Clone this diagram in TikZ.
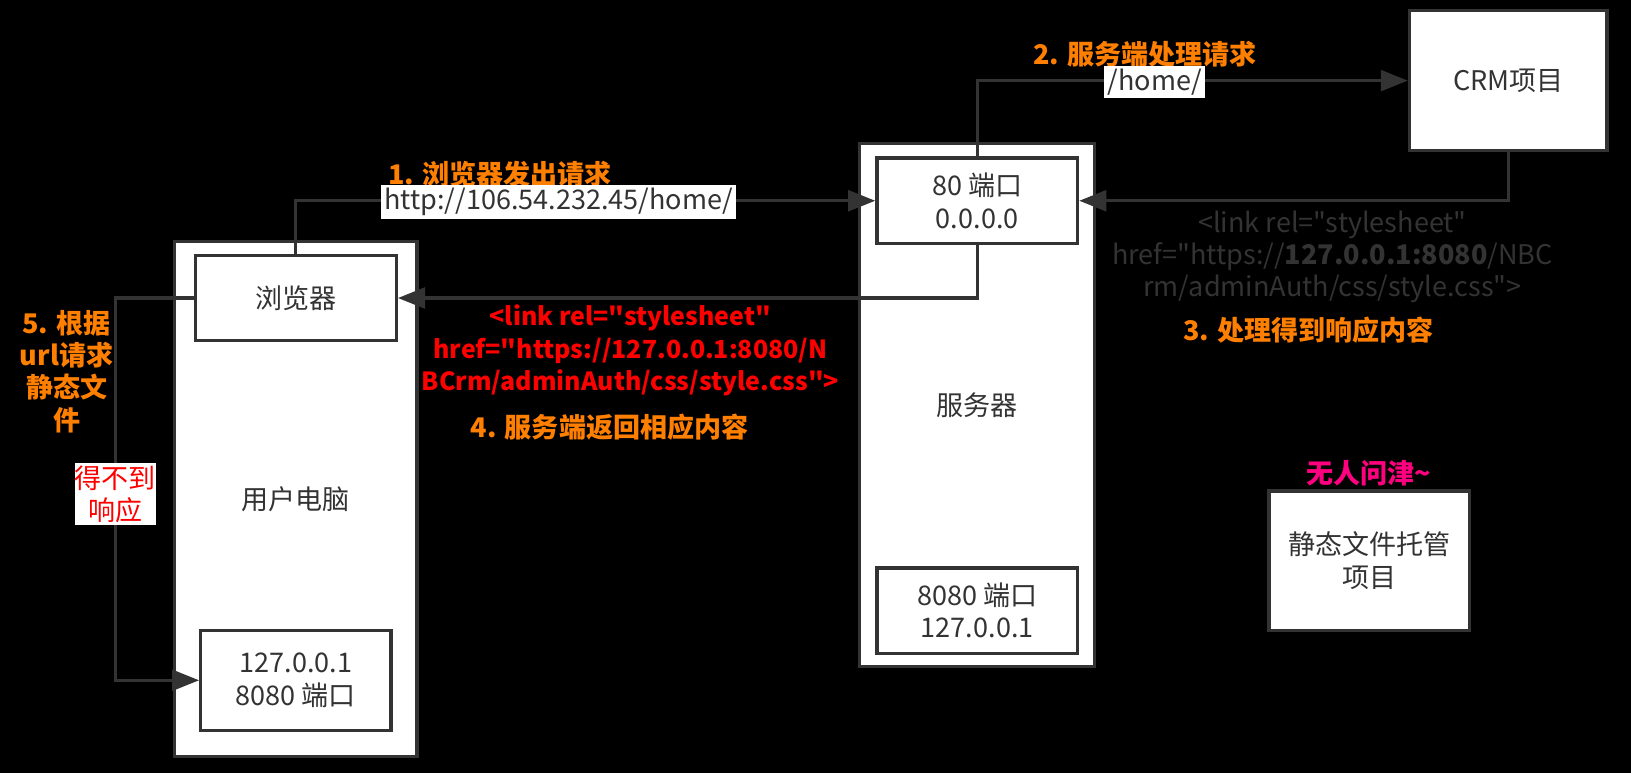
\documentclass[tikz,border=0pt]{standalone}
\usepackage{fontspec}
\newfontfamily\uifont{Noto Sans CJK SC}
\usetikzlibrary{positioning, arrows.meta}
\definecolor{linegray}{HTML}{333333}
\definecolor{steporange}{HTML}{FF8000}
\definecolor{quietpink}{HTML}{FF0080}

\begin{document}
\begin{tikzpicture}[x=0.5pt, y=-0.5pt, >={Triangle[length=13pt, width=10pt]},
    every node/.style={font=\uifont\fontsize{13}{15.5}\selectfont, text=linegray},
    box/.style={draw=linegray, line width=1.6pt, fill=white, rectangle, align=center, inner sep=0pt},
    conn/.style={draw=linegray, line width=1.5pt},
    steptext/.style={text=steporange, font=\uifont\fontsize{13}{15.5}\selectfont\bfseries, align=center},
    urllabel/.style={fill=white, inner sep=1.5pt}]
    \fill[black] (0,0) rectangle (1568,743);
    \useasboundingbox (0,0) rectangle (1568,743);

    % User computer
    \node[box, minimum width=116.5pt, minimum height=247.5pt] (pc) at (284.5,479.5) {用户电脑};
    \node[box, minimum width=96.5pt, minimum height=41pt] (browser) at (284.5,286.5) {浏览器};
    \node[box, minimum width=91.5pt, minimum height=48pt] (local) at (284.5,654) {127.0.0.1\\8080 端口};

    % Server
    \node[box, minimum width=113pt, minimum height=251.5pt] (server) at (939,389.5) {服务器};
    \node[box, minimum width=96.5pt, minimum height=41pt] (port) at (939.5,193) {80 端口\\0.0.0.0};
    \node[box, minimum width=96.5pt, minimum height=41pt] (srvlocal) at (939.5,587) {8080 端口\\127.0.0.1};

    % Projects
    \node[box, minimum width=95pt, minimum height=67.5pt] (crm) at (1450,77.5) {CRM项目};
    \node[box, minimum width=96.5pt, minimum height=67pt] (static) at (1316.5,539) {静态文件托管\\项目};

    % Request and response
    \coordinate (detour) at (111,286.5);
    \draw[conn, ->] (browser.north) |- (port.west);
    \draw[conn, ->] (port.north) |- (crm.west);
    \draw[conn, ->] (crm.south) |- (port.east);
    \draw[conn, ->] (port.south) |- (browser.east);
    \draw[conn, ->] (browser.west) -- (detour) |- (local.west);

    % Labels
    \node[steptext, anchor=west] (step1) at (366,167) {1. 浏览器发出请求};
    \node[urllabel] (url) at (537,194) {http://106.54.232.45/home/};
    \node[steptext] (step2) at (1101,52) {2. 服务端处理请求};
    \node[urllabel] (homeurl) at (1110,79) {/home/};
    \node[align=center] (crmreply) at (1281,247) {<link rel="stylesheet"\\href="https://\textbf{127.0.0.1:8080}/NBC\\rm/adminAuth/css/style.css">};
    \node[steptext] (step3) at (1258,317) {3. 处理得到响应内容};
    \node[align=center, text=red, font=\uifont\fontsize{12}{15.5}\selectfont\bfseries] (srvreply) at (606,337) {<link rel="stylesheet"\\href="https://127.0.0.1:8080/N\\BCrm/adminAuth/css/style.css">};
    \node[steptext] (step4) at (586,411) {4. 服务端返回相应内容};
    \node[steptext] (step5) at (64,357) {5. 根据\\url请求\\静态文\\件};
    \node[fill=white, text=red, align=center, inner sep=0pt, minimum width=37.5pt, minimum height=30pt] (noreply) at (111,475) {得不到\\响应};
    \node[text=quietpink, font=\uifont\fontsize{13}{15.5}\selectfont\bfseries] (idle) at (1316,455) {无人问津\textasciitilde};
\end{tikzpicture}
\end{document}
